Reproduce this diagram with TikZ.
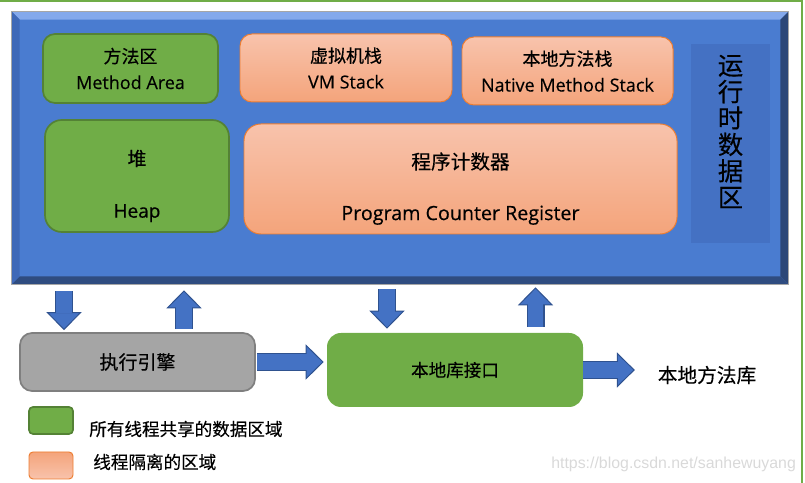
\documentclass[tikz,border=0pt]{standalone}
\usepackage{fontspec}
\setmainfont{Noto Sans CJK SC}[FakeBold=0.35]
\newfontfamily\en{Open Sans}[FakeBold=0.35]
\newfontfamily\urlfont{Liberation Sans}
\usepackage{xcolor}
\usetikzlibrary{arrows.meta, positioning, calc}
\definecolor{jvmblue}{HTML}{4A7CD0}
\definecolor{jvmlight}{HTML}{84A9EC}
\definecolor{jvmdark}{HTML}{2C4777}
\definecolor{jvmside}{HTML}{3F69B8}
\definecolor{columnblue}{HTML}{4471C3}
\definecolor{sharedgreen}{HTML}{70AD47}
\definecolor{sharededge}{HTML}{548235}
\definecolor{privtop}{HTML}{F8C3AC}
\definecolor{privbottom}{HTML}{F4A47B}
\definecolor{privedge}{HTML}{ED7D31}
\definecolor{enginegray}{HTML}{A5A5A5}
\definecolor{engineedge}{HTML}{7F7F7F}
\definecolor{pipeblue}{HTML}{4472C4}
\definecolor{pipeedge}{HTML}{2F528F}
\definecolor{framegreen}{HTML}{70AD47}
\definecolor{markgray}{HTML}{D9D9D9}

\begin{document}
\begin{tikzpicture}[
    shared/.style={draw=sharededge, line width=1.2pt, fill=sharedgreen, rounded corners=0.3cm, inner sep=0pt},
    private/.style={draw=privedge, line width=0.7pt, top color=privtop, bottom color=privbottom, rounded corners=0.3cm, inner sep=0pt},
    boxtext/.style={align=center, font=\fontsize{12.8}{18.5}\selectfont},
    pipe/.style={draw=pipeblue, line width=11.2pt, shorten >=#1+12pt,
        preaction={draw=pipeedge, line width=12.8pt, shorten >=#1,
            -{Triangle[length=12.8pt, width=25pt, line width=0.7pt, fill=pipeblue]}}},
    pipe/.default=0pt
]

    % =================================================================
    % LAYER 0: THE PAGE AND ITS GREEN EDGE
    % =================================================================
    \useasboundingbox (0,0) rectangle (20.125,12.075);
    \draw[framegreen, line width=1.5pt] (0,12.05) -- (20.05,12.05) -- (20.05,0);

    % =================================================================
    % LAYER 1: THE RUNTIME DATA AREA (BEVELLED BLUE PANEL)
    % =================================================================
    \node[inner sep=0pt, minimum width=19.4cm, minimum height=6.8cm, fill=jvmblue] (jvm) at (10,8.375) {};
    \fill[jvmlight] (jvm.north west) -- (jvm.north east) -- ++(-0.2,-0.2) -- ($(jvm.north west)+(0.2,-0.2)$) -- cycle;
    \fill[jvmdark] (jvm.north east) -- (jvm.south east) -- ++(-0.2,0.2) -- ($(jvm.north east)+(-0.2,-0.2)$) -- cycle;
    \fill[jvmdark!90!jvmblue] (jvm.south east) -- (jvm.south west) -- ++(0.2,0.2) -- ($(jvm.south east)+(-0.2,0.2)$) -- cycle;
    \fill[jvmside] (jvm.south west) -- (jvm.north west) -- ++(0.2,-0.2) -- ($(jvm.south west)+(0.2,0.2)$) -- cycle;
    \draw[gray!70, line width=0.5pt] (jvm.south west) rectangle (jvm.north east);

    % =================================================================
    % LAYER 2: THE MEMORY AREAS
    % =================================================================
    \node[shared, boxtext, minimum width=4.375cm, minimum height=1.725cm] (method) at (3.2625,10.3625)
        {方法区\\\en Method Area};
    \node[private, boxtext, minimum width=5.3cm, minimum height=1.7cm] (vmstack) at (8.65,10.375)
        {虚拟机栈\\\en VM Stack};
    \node[private, boxtext, minimum width=5.275cm, minimum height=1.7cm] (nativestack) at (14.1875,10.3)
        {本地方法栈\\\en Native Method Stack};

    \node[shared, minimum width=4.6cm, minimum height=2.8cm, rounded corners=0.42cm,
        label={[boxtext, font=\fontsize{13.5}{18.5}\selectfont, yshift=-0.25cm]center:堆\\[18.5pt]\en Heap}] (heap) at (3.425,7.675) {};
    \node[private, minimum width=10.825cm, minimum height=2.75cm, rounded corners=0.42cm,
        label={[boxtext, font=\fontsize{14}{20}\selectfont, yshift=-0.24cm]center:程序计数器\\[16.3pt]\en Program Counter Register}] (pcr) at (11.5125,7.6) {};

    \node[fill=columnblue, inner sep=0pt, minimum width=1.975cm, minimum height=4.975cm] (rtcol) at (18.2625,8.4875) {};
    \node[align=center, font=\fontsize{18}{18.8}\selectfont] (rtlabel) at ($(rtcol.center)+(0,0.3)$)
        {运\\行\\时\\数\\据\\区};

    % =================================================================
    % LAYER 3: ENGINE, NATIVE INTERFACE AND LIBRARY
    % =================================================================
    \node[draw=engineedge, line width=1.2pt, fill=enginegray, rounded corners=0.3cm, minimum width=5.875cm,
        minimum height=1.45cm, inner sep=0pt, font=\fontsize{13.5}{16}\selectfont] (engine) at (3.4375,3.025) {执行引擎};
    \node[fill=sharedgreen, rounded corners=0.35cm, minimum width=6.4cm, minimum height=1.85cm,
        inner sep=0pt, font=\fontsize{12.5}{15}\selectfont] (nativeif) at (11.375,2.825) {本地库接口};
    \node[font=\fontsize{14}{16}\selectfont] (nativelib) at (17.675,2.7) {本地方法库};

    % =================================================================
    % LAYER 4: THE BLOCK ARROWS
    % =================================================================
    \draw[pipe=0.05cm, shorten <=0.175cm] (jvm.south -| 1.6,0) -- (engine.north -| 1.6,0);
    \draw[pipe=0.15cm, shorten <=0.075cm] (engine.north -| 4.6,0) -- (jvm.south -| 4.6,0);
    \draw[pipe=0.1cm, shorten <=0.125cm] (jvm.south -| 9.675,0) -- (nativeif.north -| 9.675,0);
    \draw[pipe=0.075cm, shorten <=0.15cm] (nativeif.north -| 13.3875,0) -- (jvm.south -| 13.3875,0);
    \draw[pipe=0.075cm, shorten <=0.025cm] (engine.east) -- (engine.east -| nativeif.west);
    \draw[pipe=0.45cm] (nativeif.east) -- (nativeif.east -| nativelib.west);

    % =================================================================
    % LAYER 5: THE KEY
    % =================================================================
    \node[shared, minimum width=1.1cm, minimum height=0.675cm, rounded corners=0.1cm] (keyshared) at (1.275,1.5625) {};
    \node[private, minimum width=1.1cm, minimum height=0.675cm, rounded corners=0.1cm, top color=privbottom, bottom color=privtop] (keyprivate) at (1.275,0.4375) {};
    \node[anchor=west, inner sep=0pt, font=\fontsize{12.5}{15}\selectfont] (keysharedtext) at (2.225,1.35) {所有线程共享的数据区域};
    \node[anchor=west, inner sep=0pt, font=\fontsize{12.5}{15}\selectfont] (keyprivatetext) at (2.325,0.525) {线程隔离的区域};

    \node[anchor=west, inner sep=0pt, text=markgray, font=\urlfont\fontsize{11.3}{13}\selectfont] (watermark) at (13.775,0.475)
        {https://blog.csdn.net/sanhewuyang};

\end{tikzpicture}
\end{document}
